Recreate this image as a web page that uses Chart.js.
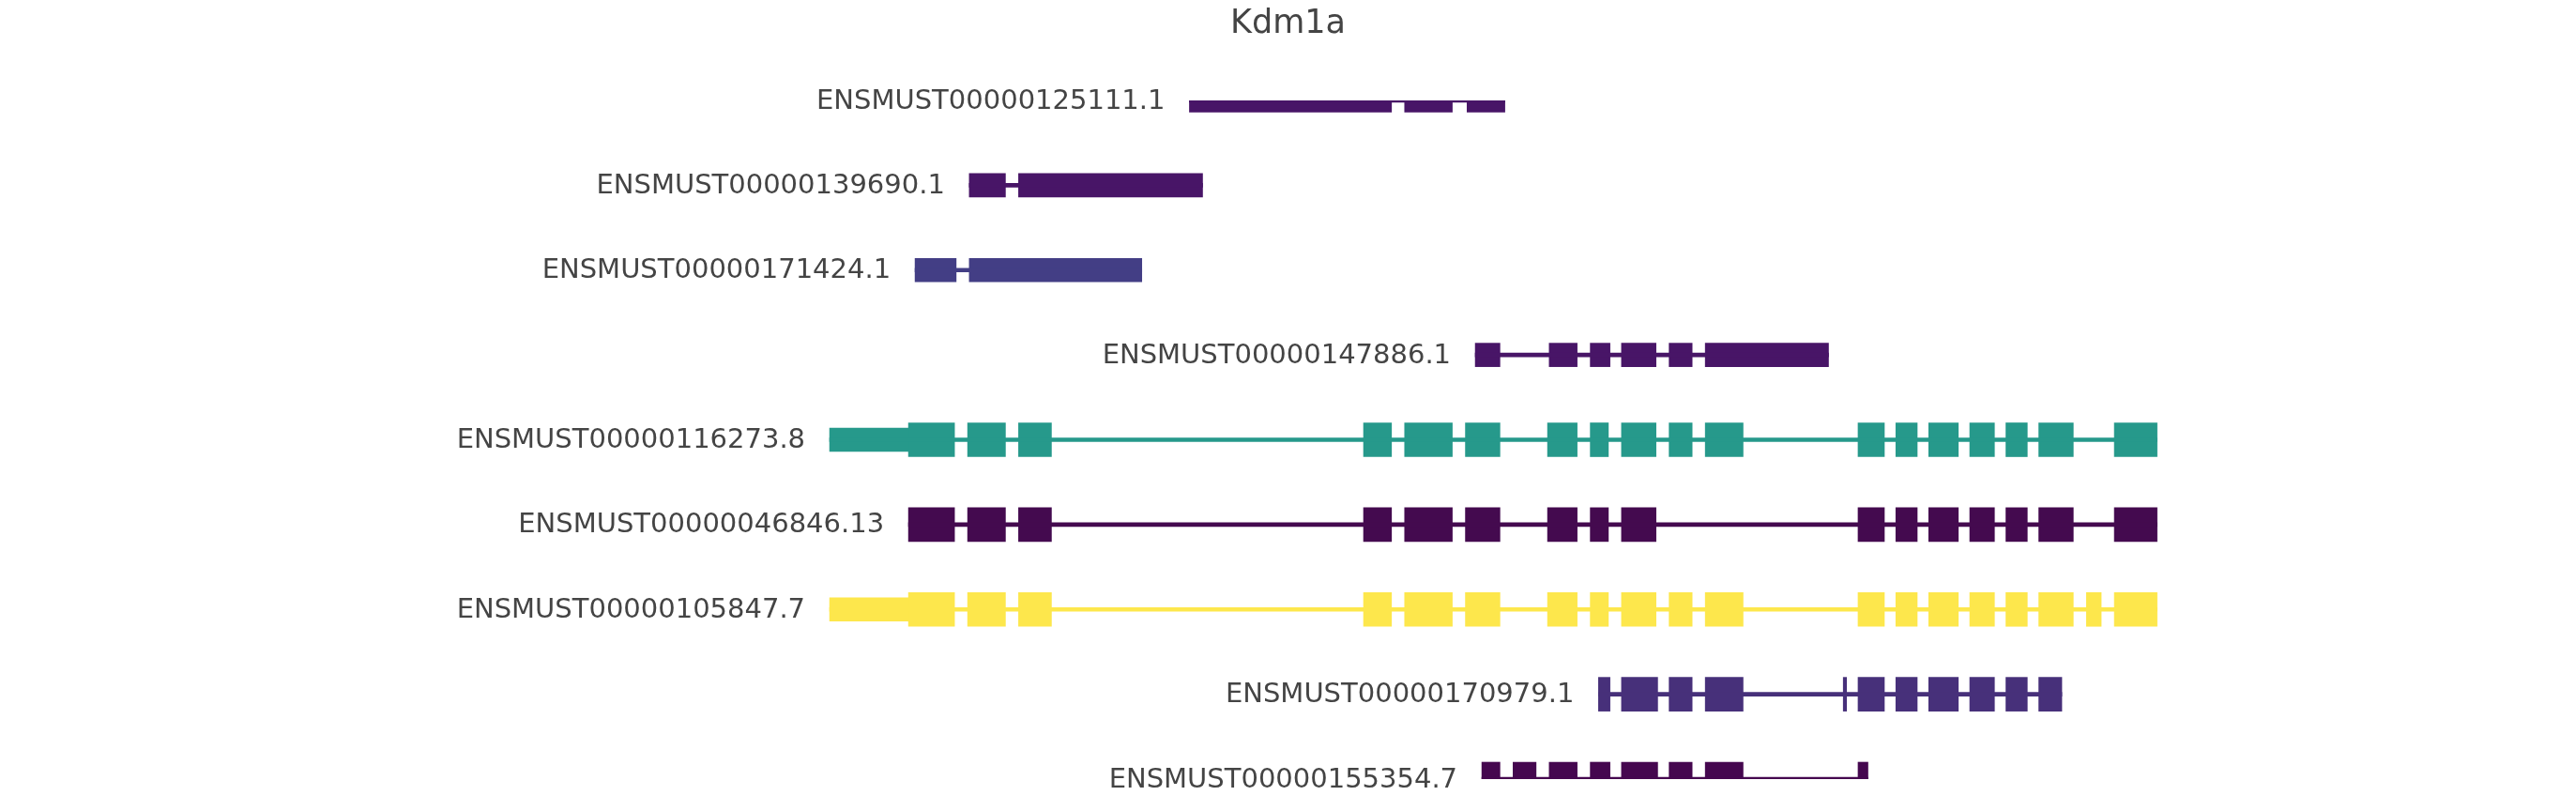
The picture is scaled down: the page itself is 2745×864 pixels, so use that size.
<!DOCTYPE html>
<html>
<head>
<meta charset="utf-8">
<script src="https://cdn.jsdelivr.net/npm/chart.js@4/dist/chart.umd.min.js"></script>
<style>
  html, body { margin: 0; padding: 0; background: #fff; }
  canvas { display: block; }
</style>
</head>
<body>
<canvas id="genes" width="2745" height="864"></canvas>
<script>
const titulo = "Kdm1a";
const transcritos = [
  "ENSMUST00000125111.1", "ENSMUST00000139690.1", "ENSMUST00000171424.1",
  "ENSMUST00000147886.1", "ENSMUST00000116273.8", "ENSMUST00000046846.13",
  "ENSMUST00000105847.7", "ENSMUST00000170979.1", "ENSMUST00000155354.7"
];
const colores = ["#481567", "#481567", "#433e85", "#481567", "#26998b", "#440a4f", "#fde74c", "#47307a", "#45074f"];

// inicio y fin de cada transcrito (linea del intron)
const extremos = [
  [724, 916], [590, 732], [557, 695], [898, 1113], [505, 1313],
  [553, 1313], [505, 1313], [973, 1255], [902, 1137]
];

// partes delgadas (UTR / no codificante)
const delgados = [
  [[724, 847], [855, 884], [893, 916]],
  [[590, 612], [620, 732]],
  [[557, 582], [590, 695]],
  [[898, 913], [943, 960], [968, 980], [987, 1008], [1016, 1030], [1038, 1113]],
  [[505, 553]],
  [],
  [[505, 553]],
  [],
  []
];

const exonesComunes = [[553, 581], [589, 612], [620, 640], [830, 847], [855, 884], [892, 913], [942, 960], [968, 979], [987, 1008]];
const exonesFinales = [[1131, 1147], [1154, 1167], [1174, 1192], [1199, 1214], [1221, 1234], [1241, 1262]];

// exones completos
const gruesos = [
  [], [], [], [],
  exonesComunes.concat([[1016, 1030], [1038, 1061]], exonesFinales, [[1287, 1313]]),
  exonesComunes.concat(exonesFinales, [[1287, 1313]]),
  exonesComunes.concat([[1016, 1030], [1038, 1061]], exonesFinales, [[1270, 1279], [1287, 1313]]),
  [[973, 980], [987, 1009], [1016, 1030], [1038, 1061], [1122, 1124], [1131, 1147], [1154, 1167], [1174, 1192], [1199, 1214], [1221, 1234], [1241, 1255]],
  [[902, 913], [921, 935], [943, 960], [968, 980], [987, 1009], [1016, 1030], [1038, 1061], [1131, 1137]]
];

function aPuntos(listas) {
  const puntos = [];
  listas.forEach((partes, i) => {
    partes.forEach(p => puntos.push({ x: p, y: transcritos[i], c: colores[i] }));
  });
  return puntos;
}

const colorDe = ctx => ctx.raw ? ctx.raw.c : "#000";

const etiquetas = {
  id: "etiquetas",
  afterDraw(chart) {
    const ctx = chart.ctx;
    const xs = chart.scales.x, ys = chart.scales.y;
    ctx.save();
    ctx.fillStyle = "#444";
    ctx.font = "29px 'DejaVu Sans'";
    ctx.textAlign = "right";
    ctx.textBaseline = "middle";
    transcritos.forEach((t, i) => {
      ctx.fillText(t, xs.getPixelForValue(extremos[i][0]) - 26, ys.getPixelForValue(i) + 1);
    });
    ctx.font = "35px 'DejaVu Sans'";
    ctx.textAlign = "center";
    ctx.fillText(titulo, chart.width / 2, 26);
    ctx.restore();
  }
};

new Chart(document.getElementById("genes").getContext("2d"), {
  type: "bar",
  data: {
    labels: transcritos,
    datasets: [
      { data: aPuntos(extremos.map(e => [e])), barThickness: 4, backgroundColor: colorDe },
      { data: aPuntos(delgados), barThickness: 25, backgroundColor: colorDe },
      { data: aPuntos(gruesos), barThickness: 36, backgroundColor: colorDe }
    ]
  },
  plugins: [etiquetas],
  options: {
    indexAxis: "y",
    responsive: false,
    animation: false,
    devicePixelRatio: 1,
    layout: { padding: { top: 107, bottom: 34, left: 0, right: 0 } },
    plugins: { legend: { display: false }, tooltip: { enabled: false } },
    datasets: { bar: { grouped: false, borderSkipped: false, borderWidth: 0 } },
    scales: {
      x: { type: "linear", min: 0, max: 1568, display: false },
      y: { type: "category", offset: false, display: false, grid: { display: false } }
    }
  }
});
</script>
</body>
</html>
